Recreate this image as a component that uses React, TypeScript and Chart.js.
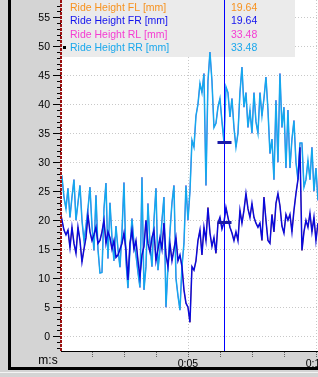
import React, { useEffect, useRef } from 'react';
import { Chart, registerables } from 'chart.js';

Chart.register(...registerables);

// sample period of the logged channels (seconds)
const DT = 0.078125;

const SERIES_NAMES = ['Ride Height FL [mm]', 'Ride Height FR [mm]', 'Ride Height RL [mm]', 'Ride Height RR [mm]'];
const LEGEND_COLORS = ['#f7921e', '#1414ee', '#f53cd2', '#1aa7ec'];
const LINE_COLORS = ['#f7921e', '#0a0adc', '#f53cd2', '#14a8ee'];
const CURSOR_VALUES = ['19.64', '19.64', '33.48', '33.48'];
const CURSOR_TIME = 6.41;
const CURSOR_MARKS = [19.64, 33.48];

const Y_TICKS = [0, 5, 10, 15, 20, 25, 30, 35, 40, 45, 50, 55];
const X_TICKS = [0, 1.25, 2.5, 3.75, 5, 6.25, 7.5, 8.75, 10];
const X_LABEL_AT = [5, 10];
const X_LABELS = ['0:05', '0:10'];
const X_UNIT = 'm:s';

// Ride Height FR (front) [mm]
const FR = [
  21.7, 20, 18.3, 17.5, 18.3, 15.3, 18.8, 16, 14.3, 18.8,
  16.5, 12.8, 15, 17, 20.9, 18, 16.5, 17.5, 18.8, 16,
  16.5, 18, 20, 16, 18, 17, 15, 16.5, 13.6, 14,
  15, 16, 17.8, 14.8, 9.7, 16, 18.3, 15, 16.5, 13,
  10.2, 14, 15.5, 20, 16, 14.5, 17, 18.3, 13, 15,
  17, 15, 19.5, 14, 12, 16, 13, 15, 17, 13,
  14, 12, 8, 5.7, 5, 2.4, 12, 11.4, 13, 16.5,
  18.3, 14, 18.8, 16.5, 22.2, 17.8, 15.5, 17, 14.3, 19.5,
  20.5, 18.5, 19.64, 22.2, 20.5, 18.8, 17.8, 16.5, 18, 16.5,
  21.7, 19.5, 21.7, 24.6, 22, 20.5, 22.9, 20.5, 19.5, 18.8,
  19.5, 16.5, 24, 20, 16.5, 16, 21, 18, 22.9, 24.6,
  22.5, 19, 17.8, 21, 20, 21, 18, 21.7, 24.6, 27,
  32.6, 14.8, 18, 20, 18.8, 21.2, 18, 20.5, 16.5, 19.5,
];

// Ride Height RR (rear) [mm]
const RR = [
  27, 27.5, 24, 22, 25.5, 20.5, 24, 27, 20, 23,
  26, 20, 16.5, 19, 22, 25.7, 19, 14.8, 24.3, 15,
  10.9, 11, 22, 26.4, 13.4, 23, 17, 13, 19, 15,
  11.9, 18, 26.5, 13, 8.3, 15, 20.3, 16, 14, 11,
  8.4, 27.4, 8, 12, 22.9, 16, 12, 20, 25.5, 11.4,
  15, 20, 24, 5, 12, 18, 23, 26, 10, 7,
  4.5, 12, 16, 26, 20, 25, 33.8, 32.6, 38, 40,
  43.6, 42, 45.3, 26, 44, 49, 44, 36, 36.7, 39.5,
  41, 37, 33.5, 43, 42, 37.8, 41, 36, 32.6, 35,
  42, 46.4, 39.5, 42, 36, 39, 35, 42, 37, 35,
  42, 38, 41, 44.7, 39, 31.5, 34, 27, 40.7, 30,
  45.3, 36, 39.5, 29, 39, 29, 34, 37.2, 30, 27,
  33.3, 33.3, 25.7, 27, 30.3, 27, 32.6, 25, 29, 23.4,
];

// FL mirrors FR and RL mirrors RR in this log (identical cursor values)
const FL = FR;
const RL = RR;

const FONT = '10.5px "Liberation Sans", Arial, sans-serif';
const UNIT_FONT = '12px "Liberation Sans", Arial, sans-serif';

const toPoints = (vals: number[]) => vals.map((v, i) => ({ x: i * DT, y: v }));

const decor = {
  id: 'decor',
  beforeDraw(chart: any) {
    const { ctx, chartArea: a } = chart;
    const W = chart.width;
    const H = chart.height;
    ctx.save();
    ctx.fillStyle = '#d4d4d4';
    ctx.fillRect(0, 0, W, H);
    ctx.fillStyle = '#000';
    ctx.fillRect(8, 0, 3, 370);
    ctx.fillRect(8, 367, W - 8, 3);
    ctx.fillStyle = '#f4f4f4';
    ctx.fillRect(0, 372, W, 1);
    ctx.fillStyle = '#ffffff';
    ctx.fillRect(a.left, a.top, a.right - a.left, a.bottom - a.top);
    ctx.restore();
  },
  beforeDatasetsDraw(chart: any) {
    const { ctx, chartArea: a, scales } = chart;
    const xs = scales.x;
    const ys = scales.y;
    ctx.save();
    ctx.strokeStyle = '#c8c8c8';
    ctx.lineWidth = 1;
    ctx.setLineDash([1, 2]);
    Y_TICKS.forEach((v) => {
      const y = Math.round(ys.getPixelForValue(v)) + 0.5;
      ctx.beginPath();
      ctx.moveTo(a.left, y);
      ctx.lineTo(a.right, y);
      ctx.stroke();
    });
    X_LABEL_AT.forEach((v) => {
      const x = Math.round(xs.getPixelForValue(v)) + 0.5;
      ctx.beginPath();
      ctx.moveTo(x, a.top);
      ctx.lineTo(x, a.bottom);
      ctx.stroke();
    });
    ctx.setLineDash([]);
    // legend panel
    ctx.fillStyle = '#ebebeb';
    ctx.fillRect(a.left, 0, 295 - a.left, 57);
    ctx.restore();
  },
  afterDatasetsDraw(chart: any) {
    const { ctx, chartArea: a, scales } = chart;
    const xs = scales.x;
    const ys = scales.y;
    ctx.save();
    // legend text
    ctx.font = FONT;
    ctx.textBaseline = 'alphabetic';
    ctx.textAlign = 'left';
    SERIES_NAMES.forEach((name, i) => {
      const by = 11 + i * 13.4;
      ctx.fillStyle = LEGEND_COLORS[i];
      ctx.fillText(name, 70, by);
      ctx.fillText(CURSOR_VALUES[i], 231, by);
    });
    ctx.fillStyle = '#000';
    ctx.fillRect(63, 46, 3, 3);

    // cursor
    const cx = Math.round(xs.getPixelForValue(CURSOR_TIME)) + 0.5;
    ctx.strokeStyle = '#0000ff';
    ctx.lineWidth = 1;
    ctx.beginPath();
    ctx.moveTo(cx, a.top);
    ctx.lineTo(cx, a.bottom);
    ctx.stroke();
    ctx.fillStyle = '#1a1aa8';
    CURSOR_MARKS.forEach((v) => {
      const y = ys.getPixelForValue(v);
      ctx.fillRect(cx - 7, Math.round(y) - 1, 14, 3);
    });

    // y axis
    ctx.strokeStyle = '#000';
    ctx.lineWidth = 1;
    for (let v = Math.ceil(ys.min); v <= Math.floor(ys.max); v++) {
      const y = Math.round(ys.getPixelForValue(v)) + 0.5;
      const major = v % 5 === 0;
      ctx.beginPath();
      ctx.moveTo(major ? a.left - 8 : a.left - 4, y);
      ctx.lineTo(a.left, y);
      ctx.stroke();
    }
    ctx.fillStyle = '#000';
    ctx.textAlign = 'right';
    ctx.textBaseline = 'middle';
    Y_TICKS.forEach((v) => {
      ctx.fillText(String(v), 50, ys.getPixelForValue(v) + 0.5);
    });
    ctx.strokeStyle = '#9a1010';
    ctx.lineWidth = 2;
    ctx.setLineDash([3, 1]);
    ctx.beginPath();
    ctx.moveTo(a.left, a.top);
    ctx.lineTo(a.left, a.bottom);
    ctx.stroke();
    ctx.setLineDash([]);

    // x axis
    ctx.strokeStyle = '#000';
    ctx.lineWidth = 1;
    ctx.beginPath();
    ctx.moveTo(a.left, a.bottom + 0.5);
    ctx.lineTo(a.right, a.bottom + 0.5);
    ctx.stroke();
    ctx.strokeStyle = '#606060';
    ctx.setLineDash([1, 1]);
    X_TICKS.forEach((t) => {
      const x = Math.round(xs.getPixelForValue(t)) + 0.5;
      if (x < a.left + 2) return;
      ctx.beginPath();
      ctx.moveTo(x, a.bottom + 1);
      ctx.lineTo(x, a.bottom + 7);
      ctx.stroke();
    });
    ctx.setLineDash([]);
    ctx.fillStyle = '#000';
    ctx.textAlign = 'center';
    ctx.textBaseline = 'alphabetic';
    X_LABEL_AT.forEach((t, i) => {
      ctx.fillText(X_LABELS[i], xs.getPixelForValue(t), 367);
    });
    ctx.font = UNIT_FONT;
    ctx.fillText(X_UNIT, 48, 364);
    ctx.restore();
  },
};

export default function App() {
  const ref = useRef<HTMLCanvasElement | null>(null);
  useEffect(() => {
    if (!ref.current) return;
    const series = [FL, FR, RL, RR];
    const orders = [3, 0, 2, 1];
    const chart = new Chart(ref.current, {
      type: 'line',
      data: {
        datasets: SERIES_NAMES.map((name, i) => ({
          label: name,
          data: toPoints(series[i]),
          borderColor: LINE_COLORS[i],
          borderWidth: i % 2 === 0 ? 1 : 1.5,
          pointRadius: 0,
          tension: 0,
          fill: false,
          order: orders[i],
        })),
      },
      options: {
        animation: false,
        responsive: false,
        devicePixelRatio: 1,
        events: [],
        layout: { padding: { left: 61, right: 0, top: 0, bottom: 26 } },
        scales: {
          x: { type: 'linear', display: false, min: 0.04, max: 10.08 },
          y: { type: 'linear', display: false, min: -2.55, max: 57.98 },
        },
        plugins: { legend: { display: false }, tooltip: { enabled: false } },
      },
      plugins: [decor],
    } as any);
    return () => chart.destroy();
  }, []);
  return (
    <div style={{ position: 'fixed', left: 0, top: 0, width: 318, height: 377 }}>
      <canvas ref={ref} width={318} height={377} style={{ display: 'block' }} />
    </div>
  );
}
